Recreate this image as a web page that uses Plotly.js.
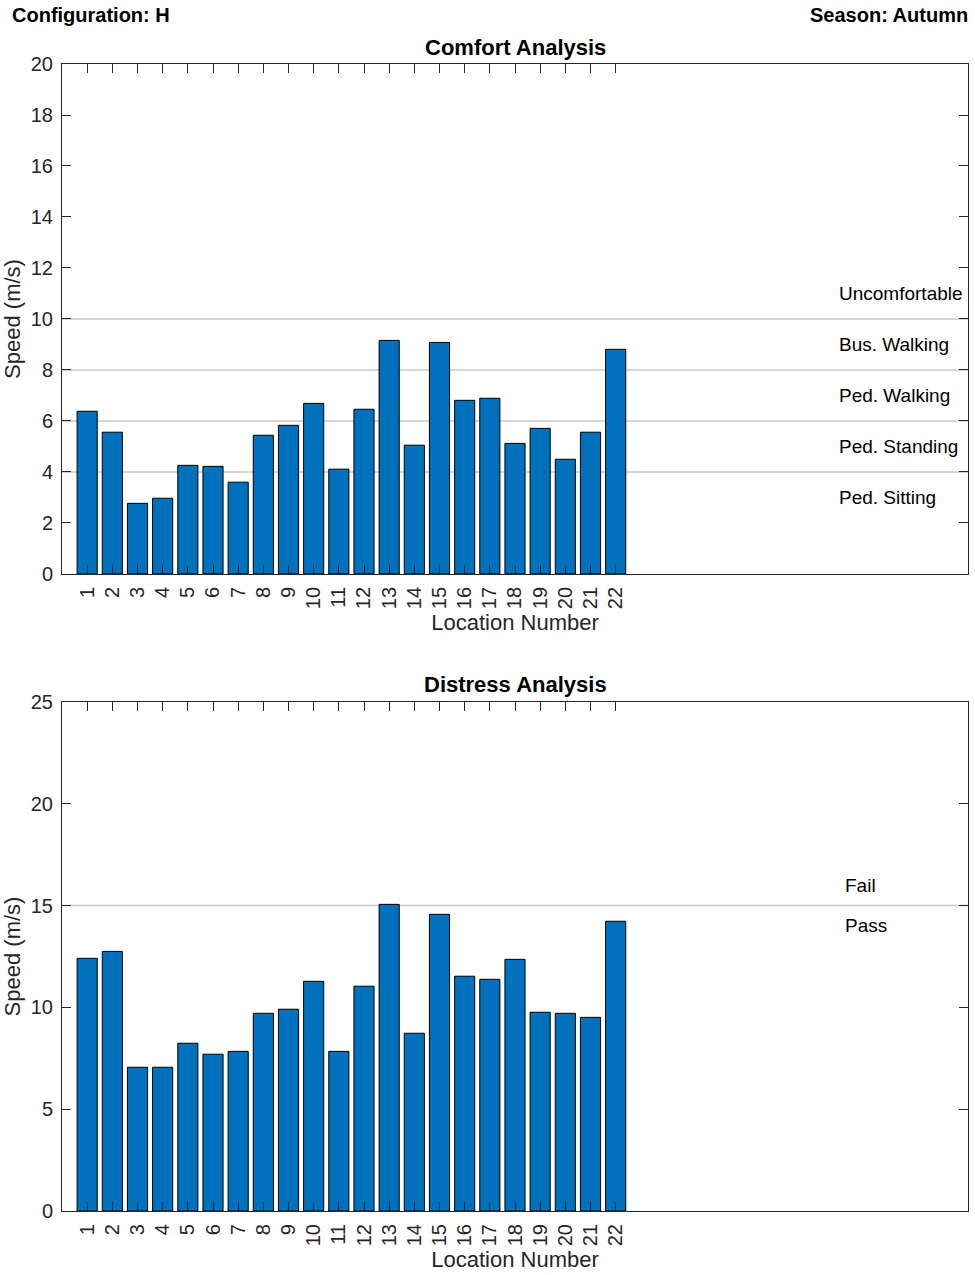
<!DOCTYPE html>
<html>
<head>
<meta charset="utf-8">
<script src="https://cdn.plot.ly/plotly-3.0.1.min.js"></script>
<style>
  html, body { margin: 0; padding: 0; background: #fff; }
  #chart { width: 975px; height: 1275px; }
</style>
</head>
<body>
<div id="chart"></div>
<script>
// ---------------- data ----------------
const locations = [1,2,3,4,5,6,7,8,9,10,11,12,13,14,15,16,17,18,19,20,21,22];
const comfortSpeed = [6.38,5.56,2.77,2.97,4.26,4.22,3.60,5.44,5.83,6.69,4.11,6.46,
                      9.16,5.05,9.08,6.81,6.89,5.12,5.71,4.50,5.56,8.81];
const distressSpeed = [12.41,12.75,7.06,7.06,8.24,7.70,7.84,9.71,9.91,11.28,7.84,11.04,
                       15.06,8.73,14.57,11.53,11.38,12.36,9.76,9.71,9.51,14.23];
const comfortThresholds = [4, 6, 8, 10];
const comfortLabels = ["Ped. Sitting","Ped. Standing","Ped. Walking","Bus. Walking","Uncomfortable"];
const comfortLabelY = [3, 5, 7, 9, 11];
const distressThresholds = [15];
const distressLabels = ["Pass","Fail"];
const distressLabelY = [14, 16];
const comfortYTicks = [0,2,4,6,8,10,12,14,16,18,20];
const distressYTicks = [0,5,10,15,20,25];

// ---------------- style ----------------
const FONT = "Liberation Sans, Arial, Helvetica, sans-serif";
const AX = "#262626";
const BAR = "#0072BD";
const GRID = "#c8c8c8";
const labelX = 30.8;

const traces = [
  { type: "bar", x: locations, y: comfortSpeed, xaxis: "x", yaxis: "y",
    width: 0.8, marker: { color: BAR, line: { color: "#000", width: 1 } },
    hoverinfo: "x+y", showlegend: false },
  { type: "bar", x: locations, y: distressSpeed, xaxis: "x2", yaxis: "y2",
    width: 0.8, marker: { color: BAR, line: { color: "#000", width: 1 } },
    hoverinfo: "x+y", showlegend: false }
];

function xAxis(anchor) {
  return {
    anchor: anchor, range: [0, 36], tickmode: "array",
    tickvals: locations, ticktext: locations.map(String), tickangle: -90,
    ticks: "inside", ticklen: 9, tickcolor: AX, tickwidth: 1,
    showline: true, linecolor: AX, linewidth: 1, mirror: "ticks",
    showgrid: false, zeroline: false, ticklabelstandoff: 4,
    tickfont: { family: FONT, size: 20, color: AX },
    title: { text: "Location Number", font: { family: FONT, size: 22, color: AX }, standoff: 6 }
  };
}
function yAxis(anchor, domain, range, ticks) {
  return {
    anchor: anchor, domain: domain, range: range, tickmode: "array", tickvals: ticks,
    ticks: "inside", ticklen: 9, tickcolor: AX, tickwidth: 1,
    showline: true, linecolor: AX, linewidth: 1, mirror: "ticks",
    showgrid: false, zeroline: false, ticklabelstandoff: 4,
    tickfont: { family: FONT, size: 20, color: AX },
    title: { text: "Speed (m/s)", font: { family: FONT, size: 22, color: AX }, standoff: 6 }
  };
}

const shapes = [];
comfortThresholds.forEach(v => shapes.push({ type: "line", xref: "x", yref: "y",
  x0: 0, x1: 36, y0: v, y1: v, line: { color: GRID, width: 1.5 }, layer: "below" }));
distressThresholds.forEach(v => shapes.push({ type: "line", xref: "x2", yref: "y2",
  x0: 0, x1: 36, y0: v, y1: v, line: { color: GRID, width: 1.5 }, layer: "below" }));

const annotations = [];
comfortLabels.forEach((t, i) => annotations.push({ xref: "x", yref: "y", x: labelX, y: comfortLabelY[i],
  text: t, showarrow: false, xanchor: "left", yanchor: "middle",
  font: { family: FONT, size: 19, color: "#000" } }));
distressLabels.forEach((t, i) => annotations.push({ xref: "x2", yref: "y2", x: 31.05, y: distressLabelY[i],
  text: t, showarrow: false, xanchor: "left", yanchor: "middle",
  font: { family: FONT, size: 19, color: "#000" } }));
annotations.push(
  { xref: "paper", yref: "paper", x: 0.5, y: 1.0148, text: "<b>Comfort Analysis</b>", showarrow: false,
    xanchor: "center", yanchor: "middle", font: { family: FONT, size: 22, color: "#000" } },
  { xref: "paper", yref: "paper", x: 0.5, y: 0.4586, text: "<b>Distress Analysis</b>", showarrow: false,
    xanchor: "center", yanchor: "middle", font: { family: FONT, size: 22, color: "#000" } },
  { xref: "paper", yref: "paper", x: -0.0574, y: 1.0427, text: "<b>Configuration: H</b>", showarrow: false,
    xanchor: "left", yanchor: "middle", font: { family: FONT, size: 20, color: "#000" } },
  { xref: "paper", yref: "paper", x: 1.0022, y: 1.0427, text: "<b>Season: Autumn</b>", showarrow: false,
    xanchor: "right", yanchor: "middle", font: { family: FONT, size: 20, color: "#000" } }
);

const layout = {
  width: 975, height: 1275,
  margin: { l: 62, r: 7, t: 64, b: 64 },
  paper_bgcolor: "#fff", plot_bgcolor: "#fff",
  bargap: 0.2,
  xaxis: xAxis("y"),
  yaxis: yAxis("x", [0.5554, 1], [0, 20], comfortYTicks),
  xaxis2: xAxis("y2"),
  yaxis2: yAxis("x2", [0, 0.4438], [0, 25], distressYTicks),
  shapes: shapes,
  annotations: annotations,
  showlegend: false
};

Plotly.newPlot("chart", traces, layout, { displayModeBar: false, staticPlot: true });
</script>
</body>
</html>
